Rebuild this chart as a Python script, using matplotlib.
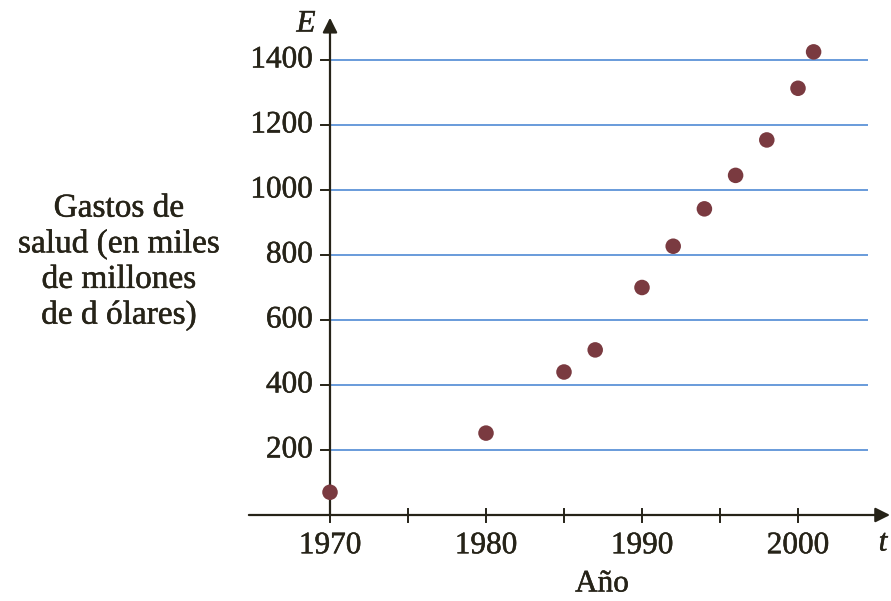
import matplotlib
matplotlib.use("Agg")
import matplotlib.pyplot as plt
import matplotlib.patheffects as pe

# Health spending data (billions of dollars)
years = [1970, 1980, 1985, 1987, 1990, 1992, 1994, 1996, 1998, 2000, 2001]
spending = [70, 252, 440, 508, 700, 827, 942, 1045, 1154, 1313, 1425]

x_ticks = [1970, 1975, 1980, 1985, 1990, 1995, 2000]
x_tick_labels = ["1970", "", "1980", "", "1990", "", "2000"]
y_ticks = [200, 400, 600, 800, 1000, 1200, 1400]

plt.rcParams['font.family'] = ['Liberation Serif', 'DejaVu Serif']
ink = '#262318'
grid_color = '#5d93d8'
dot_color = '#7a3a40'
heavy = [pe.withStroke(linewidth=0.35, foreground=ink)]

W, H = 891, 601
fig = plt.figure(figsize=(W / 100, H / 100), dpi=100)

# pixel mapping of the data frame
px_per_year = 15.6
px_per_unit = 0.325
x0_px, y0_px = 330, 515
xlim = (1963.0, 2006.0)
ylim = (-135.0, 1560.0)
left = (x0_px + (xlim[0] - 1970) * px_per_year) / W
right = (x0_px + (xlim[1] - 1970) * px_per_year) / W
bottom = (H - (y0_px - ylim[0] * px_per_unit)) / H
top = (H - (y0_px - ylim[1] * px_per_unit)) / H
ax = fig.add_axes([left, bottom, right - left, top - bottom])
ax.set_xlim(*xlim)
ax.set_ylim(*ylim)
ax.patch.set_alpha(0)
for s in ax.spines.values():
    s.set_visible(False)

# horizontal reference lines
ax.hlines(y_ticks, 1970, 2004.5, color=grid_color, lw=1.3, zorder=1)

# axes with arrow heads
ax.annotate('', xy=(2005.9, 0), xytext=(1964.8, 0),
            arrowprops=dict(arrowstyle='-|>', lw=1.6, color=ink,
                            mutation_scale=22, shrinkA=0, shrinkB=0),
            annotation_clip=False, zorder=3)
ax.annotate('', xy=(1970, 1530), xytext=(1970, 0),
            arrowprops=dict(arrowstyle='-|>', lw=1.6, color=ink,
                            mutation_scale=22, shrinkA=0, shrinkB=0),
            annotation_clip=False, zorder=3)

# tick marks and labels
for xt, lab in zip(x_ticks, x_tick_labels):
    ax.plot([xt, xt], [-20, 20], color=ink, lw=1.4, zorder=3)
    if lab:
        ax.text(xt, -50, lab, ha='center', va='top', fontsize=22.5, color=ink,
                path_effects=heavy)
for yt in y_ticks:
    ax.plot([1969.45, 1970], [yt, yt], color=ink, lw=1.4, zorder=3)
    ax.text(1968.9, yt, str(yt), ha='right', va='center', fontsize=22.5, color=ink,
            path_effects=heavy)
ax.set_xticks([])
ax.set_yticks([])

ax.scatter(years, spending, s=125, color=dot_color, zorder=4, edgecolors='none')

fig.text(306 / W, 1 - 24 / H, 'E', ha='center', va='center', fontsize=22.5,
         style='italic', color=ink, path_effects=heavy)
fig.text(883 / W, 1 - 543 / H, 't', ha='center', va='center', fontsize=22.5,
         style='italic', color=ink, path_effects=heavy)
fig.text(602 / W, 1 - 584 / H, 'Año', ha='center', va='center', fontsize=22.5,
         color=ink, path_effects=heavy)
fig.text(119 / W, 1 - 262 / H, 'Gastos de\nsalud (en miles\nde millones\nde d ólares)',
         ha='center', va='center', fontsize=24, color=ink, linespacing=1.2,
         path_effects=heavy)

fig.savefig('out.png', dpi=100)
